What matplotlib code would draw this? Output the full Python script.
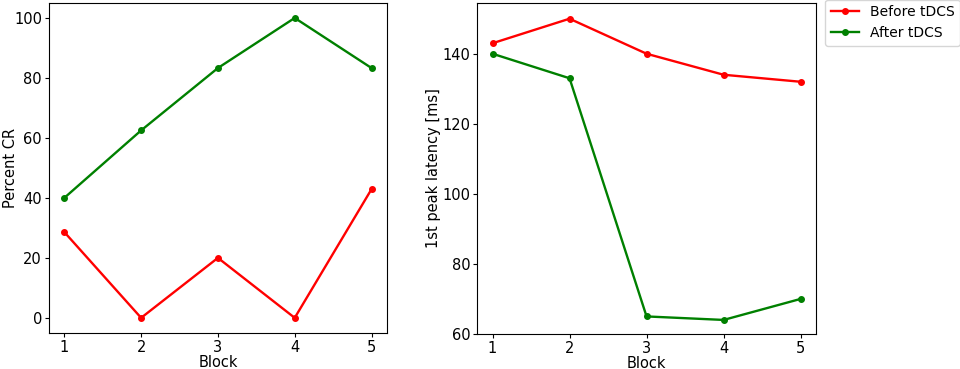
import numpy as np
import matplotlib.pyplot as plt

blocks = [1, 2, 3, 4, 5]

# percent CR per block
cr_before = [28.6, 0, 20, 0, 42.9]
cr_after = [40, 62.5, 83.3, 100, 83.3]

# 1st peak latency per block [ms]
lat_before = [143, 150, 140, 134, 132]
lat_after = [140, 133, 65, 64, 70]

plt.rcParams['font.size'] = 10.5
plt.rcParams['xtick.major.size'] = 3
plt.rcParams['ytick.major.size'] = 3
plt.rcParams['xtick.major.pad'] = 2
plt.rcParams['ytick.major.pad'] = 2

fig = plt.figure(figsize=(9.6, 3.69), dpi=100)
ax1 = fig.add_axes([0.051, 0.098, 0.352, 0.894])
ax2 = fig.add_axes([0.497, 0.095, 0.353, 0.897])

ax1.plot(blocks, cr_before, 'o-', color='red', markersize=4, linewidth=1.7)
ax1.plot(blocks, cr_after, 'o-', color='green', markersize=4, linewidth=1.7)
ax1.set_xlabel('Block', labelpad=0)
ax1.set_ylabel('Percent CR')
ax1.yaxis.set_label_coords(-0.093, 0.5)
ax1.set_xticks(blocks)

ax2.plot(blocks, lat_before, 'o-', color='red', markersize=4, linewidth=1.7, label='Before tDCS')
ax2.plot(blocks, lat_after, 'o-', color='green', markersize=4, linewidth=1.7, label='After tDCS')
ax2.set_xlabel('Block', labelpad=0)
ax2.set_ylabel('1st peak latency [ms]', labelpad=1)
ax2.set_xticks(blocks)
ax2.set_ylim(60, 154.5)
ax2.legend(loc='upper left', bbox_to_anchor=(1.028, 1.01), borderaxespad=0, fontsize=10)

plt.savefig('out.png', dpi=100)
